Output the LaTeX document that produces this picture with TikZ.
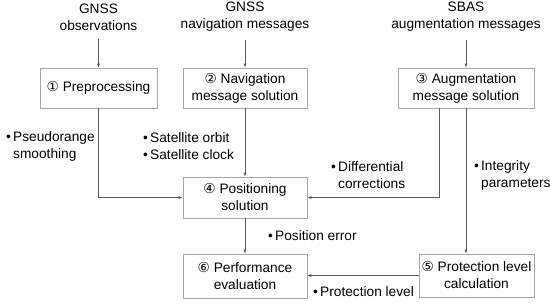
\documentclass[tikz,border=0pt]{standalone}
\usepackage{fontspec}
\setmainfont{Liberation Sans}
\newfontfamily\circfont{DejaVu Sans}
\usetikzlibrary{arrows.meta}

\newcommand{\cnum}[1]{{\circfont #1}}
\newcommand{\dotmark}{\llap{\textbullet\,}}

\begin{document}
\begin{tikzpicture}[x=1pt,y=-1pt,
  every node/.style={font=\fontsize{13.7}{17}\selectfont},
  stage/.style={draw=black!35,line width=0.6pt,align=center,inner sep=2pt},
  source/.style={align=center,inner xsep=0pt,inner ysep=8pt},
  note/.style={align=left,anchor=west,inner sep=0pt},
  flow/.style={black!65,line width=0.6pt,-{Latex[length=4pt,width=3pt]}}]
  \useasboundingbox (0,0) rectangle (550,303);

  \node[source] (obs) at (98.5,17) {GNSS\\observations};
  \node[source] (navmsg) at (245,17) {GNSS\\navigation messages};
  \node[source] (augmsg) at (466,17) {SBAS\\augmentation messages};

  \node[stage,minimum width=117pt,minimum height=40pt] (pre) at (98.5,88) {\cnum{①} Preprocessing};
  \node[stage,minimum width=124pt,minimum height=40pt] (nav) at (245,88) {\cnum{②} Navigation\\message solution};
  \node[stage,minimum width=136pt,minimum height=40pt] (aug) at (466,88) {\cnum{③} Augmentation\\message solution};
  \node[stage,minimum width=124pt,minimum height=41pt] (pos) at (245,197.5) {\cnum{④} Positioning\\solution};
  \node[stage,minimum width=115pt,minimum height=43pt] (plc) at (476.5,275.5) {\cnum{⑤} Protection level\\calculation};
  \node[stage,minimum width=124pt,minimum height=44pt] (perf) at (245,276) {\cnum{⑥} Performance\\evaluation};

  \node[note] (smooth) at (13,146) {\dotmark Pseudorange\\smoothing};
  \node[note] (orbit) at (150,146) {\dotmark Satellite orbit\\\dotmark Satellite clock};
  \node[note] (diff) at (338,175.5) {\dotmark Differential\\corrections};
  \node[note] (integ) at (481,175.5) {\dotmark Integrity\\parameters};
  \node[note] (poserr) at (275,236) {\dotmark Position error};
  \node[note] (plevel) at (320,292) {\dotmark Protection level};

  \draw[flow] (obs.south) -- (pre);
  \draw[flow] (navmsg.south) -- (nav);
  \draw[flow] (augmsg.south) -- (aug);
  \draw[flow] (pre.south) |- (pos.west);
  \draw[flow] (nav) -- (pos);
  \draw[flow] ([xshift=-27pt]aug.south) |- (pos.east);
  \draw[flow] (aug.south) -- (aug.south |- plc.north);
  \draw[flow] (pos) -- (perf);
  \draw[flow] (plc.west) -- (plc.west -| perf.east);
\end{tikzpicture}
\end{document}
